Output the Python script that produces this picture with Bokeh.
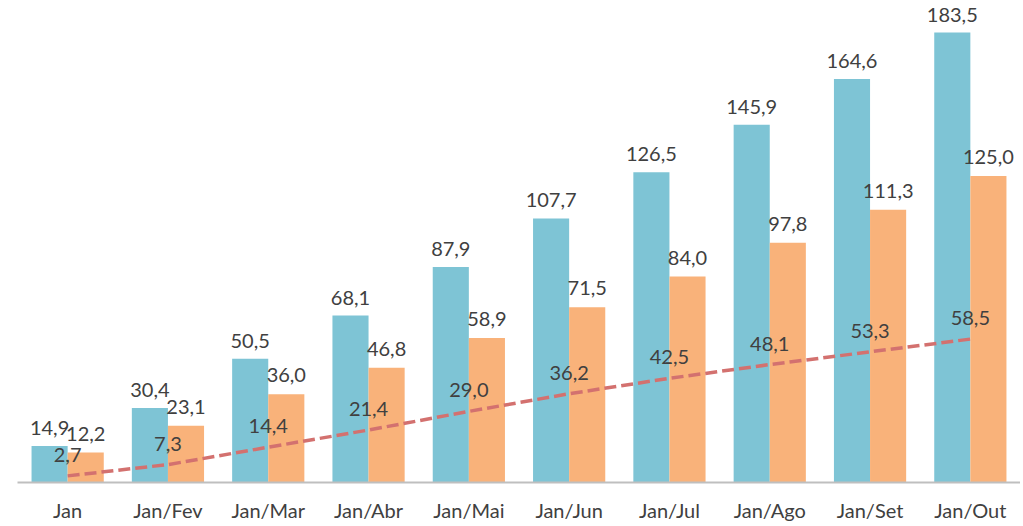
from bokeh.plotting import figure
from bokeh.models import ColumnDataSource, LabelSet, FixedTicker, Range1d
from bokeh.transform import dodge
from bokeh.embed import file_html
from bokeh.resources import INLINE
from bokeh.core.properties import value

categories = ["Jan", "Jan/Fev", "Jan/Mar", "Jan/Abr", "Jan/Mai", "Jan/Jun", "Jan/Jul", "Jan/Ago", "Jan/Set", "Jan/Out"]
blue_vals = [14.9, 30.4, 50.5, 68.1, 87.9, 107.7, 126.5, 145.9, 164.6, 183.5]
orange_vals = [12.2, 23.1, 36.0, 46.8, 58.9, 71.5, 84.0, 97.8, 111.3, 125.0]
line_vals = [2.7, 7.3, 14.4, 21.4, 29.0, 36.2, 42.5, 48.1, 53.3, 58.5]

def fmt(v):
    return f"{v:.1f}".replace(".", ",")

x = list(range(len(categories)))
src = ColumnDataSource(dict(
    x=x, blue=blue_vals, orange=orange_vals, line=line_vals,
    blue_lbl=[fmt(v) for v in blue_vals],
    orange_lbl=[fmt(v) for v in orange_vals],
    line_lbl=[fmt(v) for v in line_vals],
))

p = figure(width=1020, height=524, output_backend="svg", toolbar_location=None,
           x_range=Range1d(-0.5, 9.5), y_range=Range1d(0, 196.6),
           min_border_left=17, min_border_right=0, min_border_top=0, min_border_bottom=0)
p.outline_line_color = None
p.grid.visible = False
p.yaxis.visible = False
p.background_fill_color = "white"
p.border_fill_color = "white"

BLUE = "#7EC4D5"
ORANGE = "#F9B27A"
LINE = "#D3716F"
TXT = "#404040"
FONT = "Lato"

p.vbar(x=dodge("x", -0.18, range=p.x_range), top="blue", width=0.36, source=src,
       fill_color=BLUE, line_color=None)
p.vbar(x=dodge("x", 0.18, range=p.x_range), top="orange", width=0.36, source=src,
       fill_color=ORANGE, line_color=None)
p.line(x="x", y="line", source=src, line_color=LINE, line_width=3.5, line_dash="12 5")

for xo, col, lbl, yoff in [(-0.18, "blue", "blue_lbl", 18), (0.18, "orange", "orange_lbl", 19), (0.0, "line", "line_lbl", 21)]:
    ls = LabelSet(x=dodge("x", xo, range=p.x_range), y=col, text=lbl, source=src,
                  text_align="center", text_baseline="middle", y_offset=yoff,
                  text_font=value(FONT), text_font_size="20px", text_color=TXT)
    p.add_layout(ls)

ax = p.xaxis[0]
ax.ticker = FixedTicker(ticks=x)
ax.major_label_overrides = {i: c for i, c in enumerate(categories)}
ax.major_tick_line_color = None
ax.minor_tick_line_color = None
ax.major_tick_out = 0
ax.major_tick_in = 0
ax.axis_line_color = "#BFBFBF"
ax.axis_line_width = 2
ax.major_label_standoff = 15
ax.major_label_text_font = FONT
ax.major_label_text_font_size = "20px"
ax.major_label_text_color = TXT

open("out.html", "w").write(file_html(p, INLINE))
